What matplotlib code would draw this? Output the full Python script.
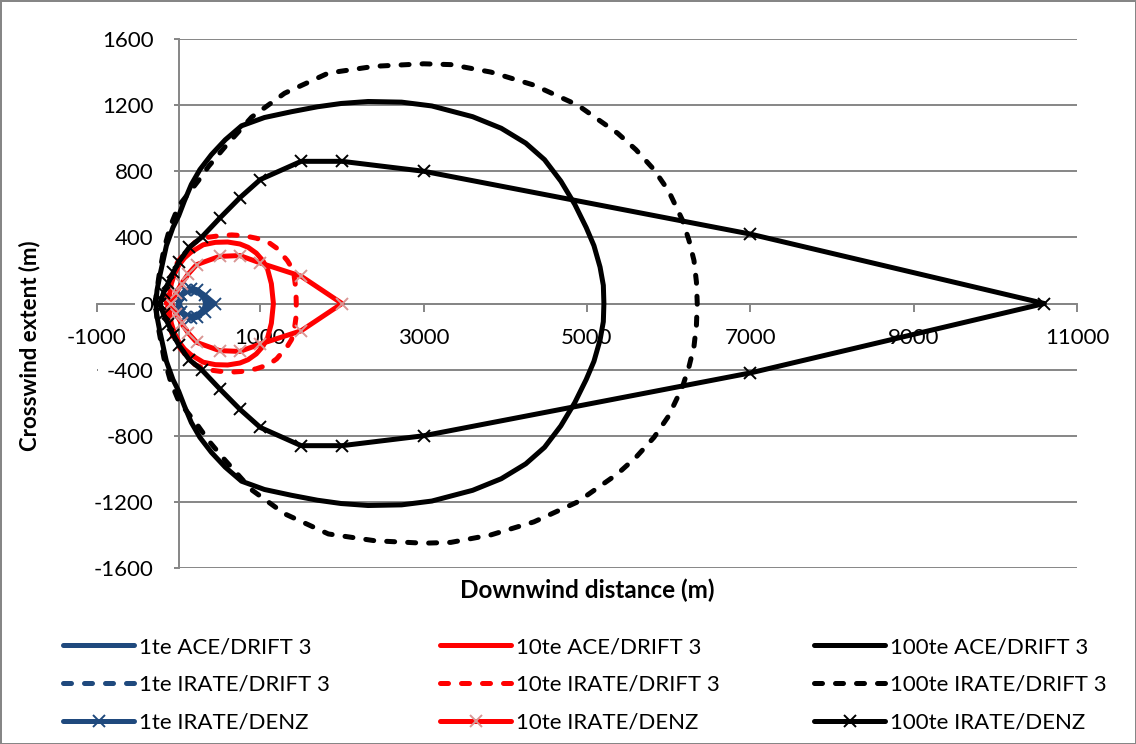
import matplotlib
matplotlib.use("Agg")
import matplotlib.pyplot as plt
from matplotlib.lines import Line2D

plt.rcParams["font.family"] = ["Lato", "DejaVu Sans"]
plt.rcParams["axes.unicode_minus"] = False

BLUE = "#1F497D"
RED = "#FF0000"
PINK = "#D99694"
GREY = "#868686"

# 1te release
ace1_x = [10, 30, 90, 170, 250, 310, 330, 310, 250, 170, 90, 30, 10]
ace1_y = [0, 45, 70, 75, 60, 35, 0, -35, -60, -75, -70, -45, 0]
irate1_x = [0, 25, 90, 180, 270, 340, 370, 340, 270, 180, 90, 25, 0]
irate1_y = [0, 55, 85, 90, 75, 40, 0, -40, -75, -90, -85, -55, 0]
denz1_x = [0, 30, 80, 150, 230, 320, 440, 320, 230, 150, 80, 30, 0]
denz1_y = [0, 50, 80, 90, 80, 50, 0, -50, -80, -90, -80, -50, 0]

# 10te release
ace10_x = [-120, -110, -90, -50, 0, 70, 150, 300, 450, 600, 750, 850, 950, 1030, 1090, 1135, 1160,
           1135, 1090, 1030, 950, 850, 750, 600, 450, 300, 150, 70, 0, -50, -90, -110, -120]
ace10_y = [0, 60, 120, 180, 230, 275, 310, 355, 370, 372, 360, 340, 305, 260, 205, 120, 0,
           -120, -205, -260, -305, -340, -360, -372, -370, -355, -310, -275, -230, -180, -120, -60, 0]
irate10_x = [-150, -135, -120, -70, 0, 100, 200, 350, 500, 650, 800, 950, 1100, 1200, 1260,
             1330, 1380, 1410, 1435, 1440,
             1435, 1410, 1380, 1330, 1260, 1200, 1100, 950, 800, 650, 500, 350, 200, 100,
             0, -70, -120, -135, -150]
irate10_y = [0, 70, 120, 200, 260, 320, 370, 400, 410, 415, 410, 395, 370, 335, 300,
             260, 220, 180, 90, 0,
             -90, -180, -220, -260, -300, -335, -370, -395, -410, -415, -410, -400, -370, -320,
             -260, -200, -120, -70, 0]
denz10_x = [-90, -30, 35, 120, 220, 500, 750, 1000, 1500, 2000,
            1500, 1000, 750, 500, 220, 120, 35, -30, -90]
denz10_y = [0, 65, 120, 180, 235, 285, 290, 245, 165, 0,
            -165, -245, -290, -285, -235, -180, -120, -65, 0]

# 100te release
ace100_x = [-280, -265, -230, -190, -150, -70, 0, 70, 155, 260, 400, 570, 770, 1050, 1380,
            1700, 1990, 2320, 2730, 3100, 3600, 3950, 4250, 4480, 4680, 4850, 4990,
            5085, 5160, 5200, 5207,
            5200, 5160, 5085, 4990, 4850, 4680, 4480, 4250, 3950, 3600, 3100, 2730,
            2320, 1990, 1700, 1380, 1050, 770, 570, 400, 260, 155, 70, 0, -70, -150,
            -190, -230, -265, -280]
ace100_y = [0, 80, 170, 260, 350, 460, 530, 620, 720, 810, 900, 990, 1075, 1125, 1160,
            1190, 1210, 1222, 1218, 1195, 1130, 1060, 970, 870, 740, 600, 460,
            350, 220, 110, 0,
            -110, -220, -350, -460, -600, -740, -870, -970, -1060, -1130, -1195, -1218,
            -1222, -1210, -1190, -1160, -1125, -1075, -990, -900, -810, -720, -620, -530, -460, -350,
            -260, -170, -80, 0]
irate100_x = [-290, -240, -180, -100, 0, 237, 367, 563, 893, 1297, 1833, 2400, 3000,
              3333, 3822, 4350, 4886, 5375, 5600, 5820, 6000, 6170, 6250, 6310, 6340, 6350,
              6340, 6310, 6250, 6170, 6000, 5820, 5600, 5375, 4886, 4350, 3822, 3333, 3000,
              2400, 1833, 1297, 893, 563, 367, 237, 0, -100, -180, -240, -290]
irate100_y = [0, 170, 330, 470, 590, 740, 830, 945, 1127, 1272, 1394, 1435, 1450,
              1445, 1400, 1321, 1200, 1030, 930, 810, 680, 503, 380, 260, 130, 0,
              -130, -260, -380, -503, -680, -810, -930, -1030, -1200, -1321, -1400, -1445, -1450,
              -1435, -1394, -1272, -1127, -945, -830, -740, -590, -470, -330, -170, 0]
denz100_x = [-230, -185, -125, -65, 0, 130, 280, 500, 750, 1000, 1500, 2000, 3000,
             7000, 10600,
             7000, 3000, 2000, 1500, 1000, 750, 500, 280, 130, 0, -65, -125, -185, -230]
denz100_y = [0, 65, 127, 190, 250, 340, 400, 515, 640, 750, 860, 860, 800,
             420, 0,
             -420, -800, -860, -860, -750, -640, -515, -400, -340, -250, -190, -127, -65, 0]

x_ticks = list(range(-1000, 11001, 2000))
y_ticks = list(range(-1600, 1601, 400))

LW = 3.6
DASH = (0, (1.6, 2.6))


def main():
    fig = plt.figure(figsize=(11.36, 7.44), dpi=100)
    fig.patch.set_edgecolor(GREY)
    fig.patch.set_linewidth(2)
    ax = fig.add_axes([97 / 1136, 1 - 568 / 744, (1077 - 97) / 1136, (568 - 39) / 744])

    series = [
        (ace1_x, ace1_y, BLUE, "-", None, None, "1te ACE/DRIFT 3"),
        (irate1_x, irate1_y, BLUE, DASH, None, None, "1te IRATE/DRIFT 3"),
        (denz1_x, denz1_y, BLUE, "-", "x", BLUE, "1te IRATE/DENZ"),
        (ace10_x, ace10_y, RED, "-", None, None, "10te ACE/DRIFT 3"),
        (irate10_x, irate10_y, RED, DASH, None, None, "10te IRATE/DRIFT 3"),
        (denz10_x, denz10_y, RED, "-", "x", PINK, "10te IRATE/DENZ"),
        (ace100_x, ace100_y, "black", "-", None, None, "100te ACE/DRIFT 3"),
        (irate100_x, irate100_y, "black", DASH, None, None, "100te IRATE/DRIFT 3"),
        (denz100_x, denz100_y, "black", "-", "x", "black", "100te IRATE/DENZ"),
    ]

    handles = []
    for x, y, c, ls, mk, mc, lab in series:
        ax.plot(x, y, color=c, lw=LW, linestyle=ls, solid_joinstyle="round",
                solid_capstyle="round", dash_capstyle="round", dash_joinstyle="round")
        if mk:
            ax.plot(x, y, linestyle="none", marker=mk, markersize=9,
                    markeredgewidth=1.4, color=mc)
        handles.append(Line2D([], [], color=c, lw=LW, linestyle=ls,
                              dash_capstyle="round", solid_capstyle="round",
                              marker=mk, markersize=9, markeredgewidth=1.4,
                              markeredgecolor=mc, label=lab))

    ax.set_xlim(-1000, 11000)
    ax.set_ylim(-1600, 1600)
    ax.set_xticks(x_ticks)
    ax.set_yticks(y_ticks)
    for side in ["top", "right"]:
        ax.spines[side].set_visible(False)
    for side in ["left", "bottom"]:
        ax.spines[side].set_position(("data", 0))
        ax.spines[side].set_color(GREY)
        ax.spines[side].set_linewidth(1.4)
        ax.spines[side].set_zorder(1.4)
    ax.yaxis.grid(True, color=GREY, lw=1.4)
    ax.tick_params(axis="both", direction="out", length=6, width=1.4, color=GREY,
                   labelsize=16)
    ax.tick_params(axis="y", pad=12)
    ax.tick_params(axis="x", pad=12)
    # white boxes hide the gridlines behind the y labels, kept clear of the x labels
    for val, t in zip(y_ticks, ax.get_yticklabels()):
        pad = {0: 0.25, -400: 0.4}.get(val, 0.9)
        t.set_bbox(dict(boxstyle=f"square,pad={pad}", facecolor="white", edgecolor="none"))

    fig.text(30 / 1136, 1 - 346 / 744, "Crosswind extent (m)", rotation=90,
             ha="center", va="center", fontsize=16, fontweight="bold")
    fig.text(587 / 1136, 1 - 590 / 744, "Downwind distance (m)",
             ha="center", va="center", fontsize=17.5, fontweight="bold")

    col_x = [63, 440, 814]
    for i, x0 in enumerate(col_x):
        fig.legend(handles=handles[3 * i:3 * i + 3], loc="upper left",
                   bbox_to_anchor=(x0 / 1136, 1 - 637 / 744), frameon=False,
                   fontsize=16, handlelength=3.2, handletextpad=0.2,
                   borderpad=0, borderaxespad=0, labelspacing=0.8, numpoints=1)

    plt.savefig("out.png", dpi=100)
    plt.close()


if __name__ == "__main__":
    main()
